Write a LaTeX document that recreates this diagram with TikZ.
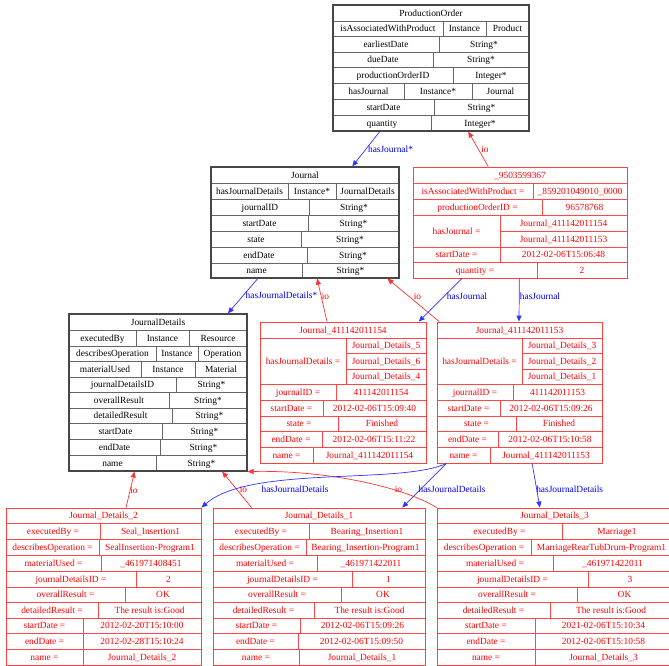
\documentclass[tikz,border=0pt]{standalone}
\usepackage{fontspec}
\setmainfont{Liberation Serif}
\usetikzlibrary{arrows.meta,calc,fit}
\newcounter{txtn}
\newcommand\tx[3]{\stepcounter{txtn}\node[ctext] (t\arabic{txtn}) at ({#1},{#2}) {#3};}
\newcommand\tblhead[5]{\tx{(#1+#2)/2}{(#3+#4)/2}{#5}}
\newcommand\tbltwo[7]{\draw[cline] (#1,#3) -- (#2,#3); \draw[cline] (#5,#3) -- (#5,#4);
  \tx{(#1+#5)/2}{(#3+#4)/2}{#6}\tx{(#5+#2)/2}{(#3+#4)/2}{#7}}
\newcommand\tblthree[9]{\draw[cline] (#1,#3) -- (#2,#3); \draw[cline] (#5,#3) -- (#5,#4) (#6,#3) -- (#6,#4);
  \tx{(#1+#5)/2}{(#3+#4)/2}{#7}\tx{(#5+#6)/2}{(#3+#4)/2}{#8}\tx{(#6+#2)/2}{(#3+#4)/2}{#9}}
\newcommand\tblbox[6]{\node[#6, fit={(#2,#3) (#4,#5)}] (#1) {};}
\tikzset{
  ctext/.style={inner sep=0pt, text height=6.2pt, text depth=0pt, font=\fontsize{9.4}{10}\selectfont},
  cline/.style={draw=black!60, line width=0.7pt},
  blackbox/.style={draw=black!72, line width=1.2pt, inner sep=0pt},
  redbox/.style={draw=red!75, line width=0.9pt, inner sep=0pt},
  redscope/.style={cline/.style={draw=red!72, line width=0.8pt}, ctext/.append style={text=red}},
  bedge/.style={draw=blue!80, line width=0.7pt, -{Triangle[length=6pt,width=5pt]}},
  redge/.style={draw=red!80, line width=0.7pt, -{Triangle[length=6pt,width=5pt]}},
  blbl/.style={inner sep=0pt, text=blue, font=\fontsize{9.4}{10}\selectfont},
  rlbl/.style={inner sep=0pt, text=red, font=\fontsize{9.4}{10}\selectfont},
}
\begin{document}
\begin{tikzpicture}[x=1pt,y=-1pt]
\path[use as bounding box, fill=white] (0,0) rectangle (669,666);

% ProductionOrder
\tblhead{333}{529}{5}{21}{ProductionOrder}
\tblthree{333}{529}{21}{36}{443}{486}{isAssociatedWithProduct}{Instance}{Product}
\tbltwo{333}{529}{36}{52}{439}{earliestDate}{String*}
\tbltwo{333}{529}{52}{67}{433}{dueDate}{String*}
\tbltwo{333}{529}{67}{83}{453}{productionOrderID}{Integer*}
\tblthree{333}{529}{83}{99}{404}{472}{hasJournal}{Instance*}{Journal}
\tbltwo{333}{529}{99}{115}{434}{startDate}{String*}
\tbltwo{333}{529}{115}{131}{431}{quantity}{Integer*}
\tblbox{po}{333}{5}{529}{131}{blackbox}

% Journal
\tblhead{211}{399}{167}{183}{Journal}
\tblthree{211}{399}{183}{199}{288}{336}{hasJournalDetails}{Instance*}{JournalDetails}
\tbltwo{211}{399}{199}{215}{309}{journalID}{String*}
\tbltwo{211}{399}{215}{231}{308}{startDate}{String*}
\tbltwo{211}{399}{231}{247}{301}{state}{String*}
\tbltwo{211}{399}{247}{263}{307}{endDate}{String*}
\tbltwo{211}{399}{263}{278}{302}{name}{String*}
\tblbox{jn}{211}{167}{399}{278}{blackbox}

% JournalDetails
\tblhead{69}{247}{314}{330}{JournalDetails}
\tblthree{69}{247}{330}{346}{136}{189}{executedBy}{Instance}{Resource}
\tblthree{69}{247}{346}{361}{156}{198}{describesOperation}{Instance}{Operation}
\tblthree{69}{247}{361}{377}{141}{195}{materialUsed}{Instance}{Material}
\tbltwo{69}{247}{377}{392}{176}{journalDetailsID}{String*}
\tbltwo{69}{247}{392}{408}{169}{overallResult}{String*}
\tbltwo{69}{247}{408}{423}{172}{detailedResult}{String*}
\tbltwo{69}{247}{423}{439}{162}{startDate}{String*}
\tbltwo{69}{247}{439}{455}{160}{endDate}{String*}
\tbltwo{69}{247}{455}{471}{156}{name}{String*}
\tblbox{jd}{69}{314}{247}{471}{blackbox}

\begin{scope}[redscope]
% _9503599367
\tblhead{413}{627}{167}{183}{\_9503599367}
\tbltwo{413}{627}{183}{199}{533}{isAssociatedWithProduct =}{\_859201049010\_0000}
\tbltwo{413}{627}{199}{215}{542}{productionOrderID =}{96578768}
\draw[cline] (413,215) -- (627,215) (500,215) -- (500,247) (500,231) -- (627,231);
\tx{(413+500)/2}{231}{hasJournal =}
\tx{(500+627)/2}{223}{Journal\_411142011154}
\tx{(500+627)/2}{239}{Journal\_411142011153}
\tbltwo{413}{627}{247}{262}{500}{startDate =}{2012-02-06T15:06:48}
\tbltwo{413}{627}{262}{278}{537}{quantity =}{2}
\tblbox{p950}{413}{167}{627}{278}{redbox}

% Journal_411142011154
\tblhead{260}{426}{322}{338}{Journal\_411142011154}
\draw[cline] (260,338) -- (426,338) (346,338) -- (346,384) (346,353) -- (426,353) (346,369) -- (426,369);
\tx{(260+346)/2}{361}{hasJournalDetails =}
\tx{(346+426)/2}{345.5}{Journal\_Details\_5}
\tx{(346+426)/2}{361}{Journal\_Details\_6}
\tx{(346+426)/2}{376.5}{Journal\_Details\_4}
\tbltwo{260}{426}{384}{400}{336}{journalID =}{411142011154}
\tbltwo{260}{426}{400}{416}{323}{startDate =}{2012-02-06T15:09:40}
\tbltwo{260}{426}{416}{431}{338}{state =}{Finished}
\tbltwo{260}{426}{431}{447}{322}{endDate =}{2012-02-06T15:11:22}
\tbltwo{260}{426}{447}{463}{313}{name =}{Journal\_411142011154}
\tblbox{j154}{260}{322}{426}{463}{redbox}

% Journal_411142011153
\tblhead{437}{602}{322}{338}{Journal\_411142011153}
\draw[cline] (437,338) -- (602,338) (522,338) -- (522,384) (522,353) -- (602,353) (522,369) -- (602,369);
\tx{(437+522)/2}{361}{hasJournalDetails =}
\tx{(522+602)/2}{345.5}{Journal\_Details\_3}
\tx{(522+602)/2}{361}{Journal\_Details\_2}
\tx{(522+602)/2}{376.5}{Journal\_Details\_1}
\tbltwo{437}{602}{384}{400}{513}{journalID =}{411142011153}
\tbltwo{437}{602}{400}{416}{500}{startDate =}{2012-02-06T15:09:26}
\tbltwo{437}{602}{416}{431}{516}{state =}{Finished}
\tbltwo{437}{602}{431}{447}{498}{endDate =}{2012-02-06T15:10:58}
\tbltwo{437}{602}{447}{463}{490}{name =}{Journal\_411142011153}
\tblbox{j153}{437}{322}{602}{463}{redbox}

% Journal_Details_2
\tblhead{6}{201}{508}{523}{Journal\_Details\_2}
\tbltwo{6}{201}{523}{539}{100}{executedBy =}{Seal\_Insertion1}
\tbltwo{6}{201}{539}{555}{99}{describesOperation =}{SealInsertion-Program1}
\tbltwo{6}{201}{555}{571}{101}{materialUsed =}{\_461971408451}
\tbltwo{6}{201}{571}{587}{136}{journalDetailsID =}{2}
\tbltwo{6}{201}{587}{602}{125}{overallResult =}{OK}
\tbltwo{6}{201}{602}{618}{98}{detailedResult =}{The result is:Good}
\tbltwo{6}{201}{618}{633}{83}{startDate =}{2012-02-20T15:10:00}
\tbltwo{6}{201}{633}{649}{83}{endDate =}{2012-02-28T15:10:24}
\tbltwo{6}{201}{649}{665}{83}{name =}{Journal\_Details\_2}
\tblbox{jd2}{6}{508}{201}{665}{redbox}

% Journal_Details_1
\tblhead{213}{425}{508}{523}{Journal\_Details\_1}
\tbltwo{213}{425}{523}{539}{309}{executedBy =}{Bearing\_Insertion1}
\tbltwo{213}{425}{539}{555}{306}{describesOperation =}{Bearing\_Insertion-Program1}
\tbltwo{213}{425}{555}{571}{317}{materialUsed =}{\_461971422011}
\tbltwo{213}{425}{571}{587}{352}{journalDetailsID =}{1}
\tbltwo{213}{425}{587}{602}{341}{overallResult =}{OK}
\tbltwo{213}{425}{602}{618}{314}{detailedResult =}{The result is:Good}
\tbltwo{213}{425}{618}{633}{300}{startDate =}{2012-02-06T15:09:26}
\tbltwo{213}{425}{633}{649}{298}{endDate =}{2012-02-06T15:09:50}
\tbltwo{213}{425}{649}{665}{299}{name =}{Journal\_Details\_1}
\tblbox{jd1}{213}{508}{425}{665}{redbox}

% Journal_Details_3
\tblhead{437}{672}{508}{523}{Journal\_Details\_3}
\tbltwo{437}{672}{523}{539}{562}{executedBy =}{Marriage1}
\tbltwo{437}{672}{539}{555}{531}{describesOperation =}{MarriageRearTubDrum-Program1}
\tbltwo{437}{672}{555}{571}{553}{materialUsed =}{\_461971422011}
\tbltwo{437}{672}{571}{587}{588}{journalDetailsID =}{3}
\tbltwo{437}{672}{587}{602}{577}{overallResult =}{OK}
\tbltwo{437}{672}{602}{618}{550}{detailedResult =}{The result is:Good}
\tbltwo{437}{672}{618}{633}{535}{startDate =}{2021-02-06T15:10:34}
\tbltwo{437}{672}{633}{649}{535}{endDate =}{2012-02-06T15:10:58}
\tbltwo{437}{672}{649}{665}{535}{name =}{Journal\_Details\_3}
\tblbox{jd3}{437}{508}{672}{665}{redbox}
\end{scope}

% edges
\draw[bedge] ($(po.south west)!0.24!(po.south east)$) -- ($(jn.north west)!0.75!(jn.north east)$);
\draw[redge] ($(p950.north west)!0.352!(p950.north east)$) -- ($(po.south west)!0.689!(po.south east)$);
\draw[bedge] ($(jn.south west)!0.25!(jn.south east)$) -- ($(jd.north west)!0.89!(jd.north east)$);
\draw[redge] ($(j154.north west)!0.404!(j154.north east)$) -- ($(jn.south west)!0.564!(jn.south east)$);
\draw[redge] ($(j153.north west)!0.016!(j153.north east)$) -- ($(jn.south west)!0.936!(jn.south east)$);
\draw[bedge] ($(p950.south west)!0.23!(p950.south east)$) -- ($(j154.north west)!0.954!(j154.north east)$);
\draw[bedge] ($(p950.south west)!0.497!(p950.south east)$) -- ($(j153.north west)!0.497!(j153.north east)$);
\draw[redge] ($(jd2.north west)!0.615!(jd2.north east)$) -- ($(jd.south west)!0.369!(jd.south east)$);
\draw[redge] ($(jd1.north west)!0.183!(jd1.north east)$) -- ($(jd.south west)!0.858!(jd.south east)$);
\draw[redge] (jd3.north west) .. controls (400,485) and (320,470) .. (jd.south east);
\draw[bedge] ($(j153.south west)!0.059!(j153.south east)$) .. controls (400,485) and (250,465) .. (jd2.north east);
\draw[bedge] ($(j153.south west)!0.059!(j153.south east)$) -- ($(jd1.north west)!0.891!(jd1.north east)$);
\draw[bedge] ($(j153.south west)!0.576!(j153.south east)$) -- ($(jd3.north west)!0.438!(jd3.north east)$);

% labels
\node[blbl] (l1) at (390.5,149) {hasJournal*};
\node[rlbl] (l2) at (485,149) {io};
\node[blbl] (l3) at (281.5,295) {hasJournalDetails*};
\node[rlbl] (l4) at (325.5,296) {io};
\node[rlbl] (l5) at (417.5,296) {io};
\node[blbl] (l6) at (467,296) {hasJournal};
\node[blbl] (l7) at (540,296) {hasJournal};
\node[rlbl] (l8) at (134,490) {io};
\node[rlbl] (l9) at (243.5,489) {io};
\node[rlbl] (l10) at (398.5,489) {io};
\node[blbl] (l11) at (295,489) {hasJournalDetails};
\node[blbl] (l12) at (452,489) {hasJournalDetails};
\node[blbl] (l13) at (569.7,489) {hasJournalDetails};
\end{tikzpicture}
\end{document}
